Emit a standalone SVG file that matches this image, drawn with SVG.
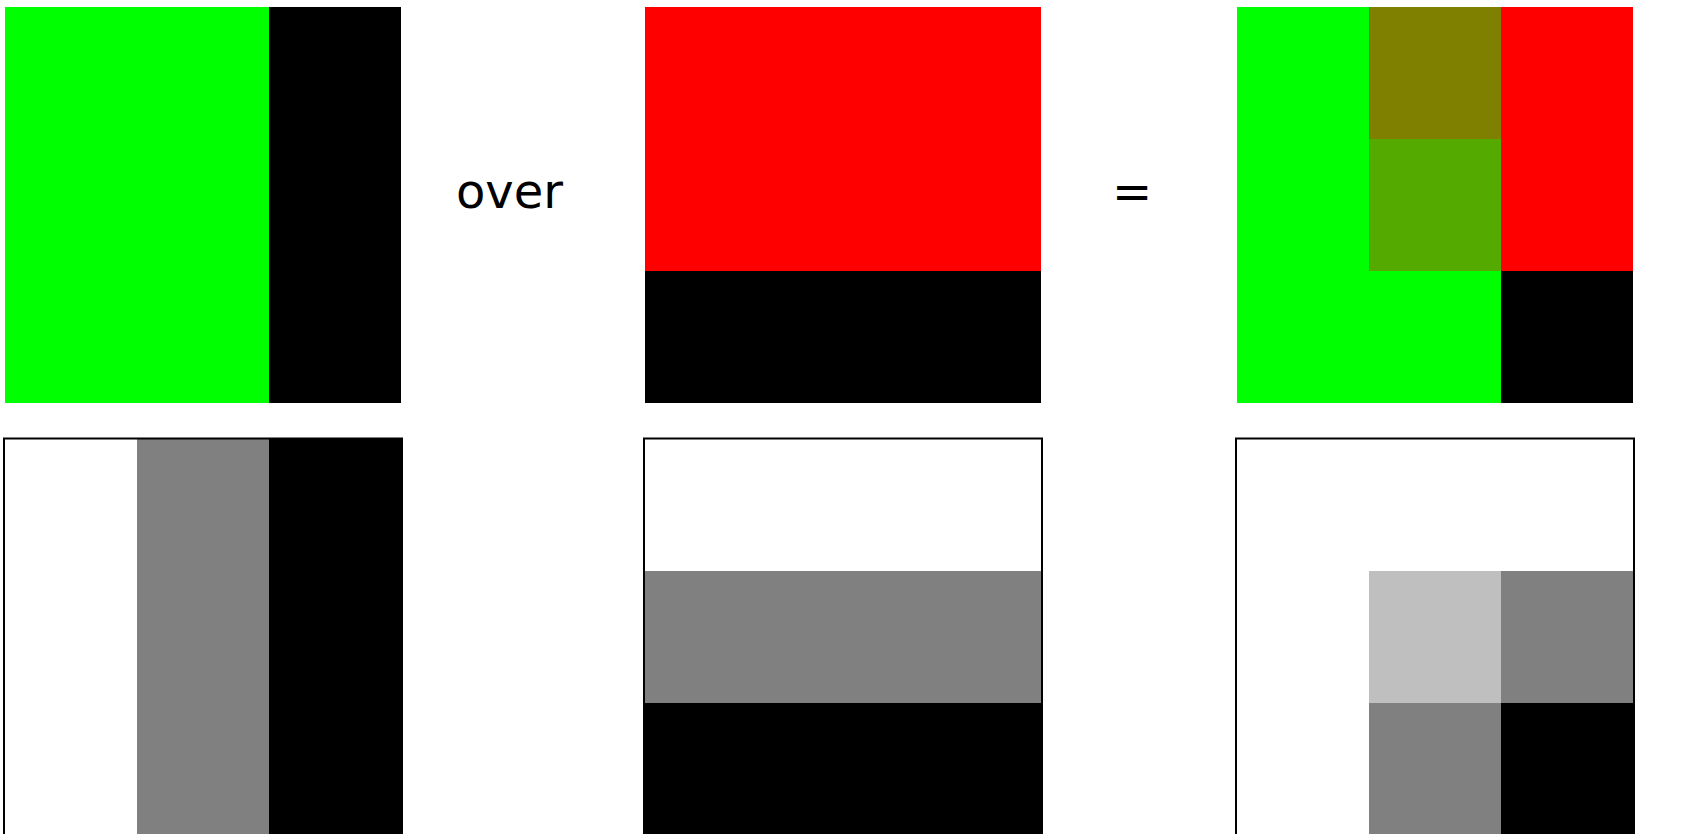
<svg xmlns="http://www.w3.org/2000/svg" width="1692" height="834" viewBox="0 0 1692 834">
<style>
.lbl{font-family:"DejaVu Sans",sans-serif;font-size:48px;fill:#000}
.frame{fill:none;stroke:#000;stroke-width:2}
</style>
<rect width="1692" height="834" fill="#fff"/>
<g id="source-color">
<rect x="5" y="7" width="264" height="396" fill="#00ff00"/>
<rect x="269" y="7" width="132" height="396" fill="#000"/>
</g>
<g id="over-label"><text class="lbl" x="456" y="208">over</text></g>
<g id="dest-color">
<rect x="645" y="7" width="396" height="264" fill="#ff0000"/>
<rect x="645" y="271" width="396" height="132" fill="#000"/>
</g>
<g id="equals-label"><text class="lbl" x="1112" y="208">=</text></g>
<g id="result-color">
<rect x="1237" y="7" width="264" height="396" fill="#00ff00"/>
<rect x="1501" y="7" width="132" height="264" fill="#ff0000"/>
<rect x="1501" y="271" width="132" height="132" fill="#000"/>
<rect x="1369" y="7" width="132" height="132" fill="#808000"/>
<rect x="1369" y="139" width="132" height="132" fill="#55aa00"/>
</g>
<g id="source-alpha">
<rect x="5" y="439" width="132" height="396" fill="#fff"/>
<rect x="137" y="439" width="132" height="396" fill="#808080"/>
<rect x="269" y="439" width="132" height="396" fill="#000"/>
<rect class="frame" x="4" y="438.5" width="398" height="398"/>
</g>
<g id="dest-alpha">
<rect x="645" y="439" width="396" height="132" fill="#fff"/>
<rect x="645" y="571" width="396" height="132" fill="#808080"/>
<rect x="645" y="703" width="396" height="132" fill="#000"/>
<rect class="frame" x="644" y="438.5" width="398" height="398"/>
</g>
<g id="result-alpha">
<rect x="1237" y="439" width="396" height="396" fill="#fff"/>
<rect x="1369" y="571" width="132" height="132" fill="#bfbfbf"/>
<rect x="1501" y="571" width="132" height="132" fill="#808080"/>
<rect x="1369" y="703" width="132" height="132" fill="#808080"/>
<rect x="1501" y="703" width="132" height="132" fill="#000"/>
<rect class="frame" x="1236" y="438.5" width="398" height="398"/>
</g>
<g id="connectors"></g>
</svg>
